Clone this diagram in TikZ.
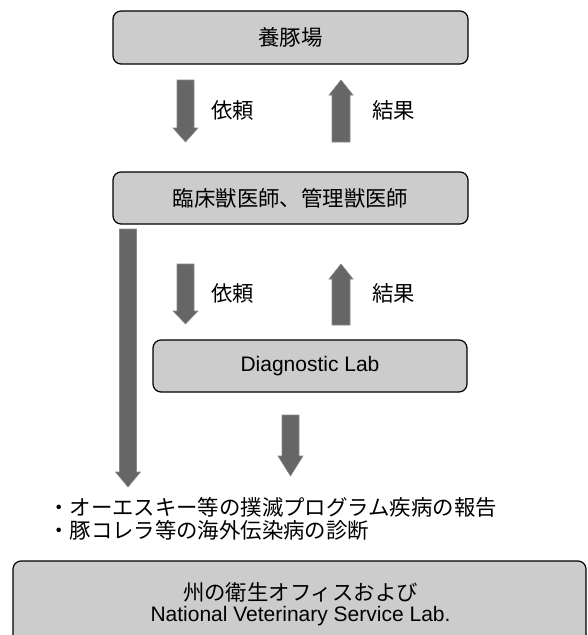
\documentclass[tikz,border=0pt]{standalone}
\usepackage{fontspec}
\setmainfont{Liberation Sans}
\newfontfamily\jp{Noto Sans CJK JP}
\usetikzlibrary{calc}
\definecolor{boxgray}{HTML}{CCCCCC}
\definecolor{arrgray}{HTML}{666666}
\definecolor{arredge}{HTML}{8A8A8A}
\tikzset{
  box/.style={draw=black, line width=1.2pt, fill=boxgray, rounded corners=8pt, inner sep=0pt, font=\fontsize{21}{25}\selectfont},
  lbl/.style={inner sep=0pt, font=\jp\fontsize{21.4}{25}\selectfont},
  blockarrow/.style={fill=arrgray, draw=arredge, line width=0.6pt},
}
% down block arrow from #1 (top) to #2 (tip), head length #3
\newcommand\darr[3]{\filldraw[blockarrow] let \p1=(#1),\p2=(#2) in
  (\x1-8.5pt,\y1) -- (\x1+8.5pt,\y1) -- (\x1+8.5pt,\y2+#3) -- (\x1+12.5pt,\y2+#3)
  -- (\x1,\y2) -- (\x1-12.5pt,\y2+#3) -- (\x1-8.5pt,\y2+#3) -- cycle;}
% up block arrow from #1 (base) to #2 (tip), head length #3
\newcommand\uarr[3]{\filldraw[blockarrow] let \p1=(#1),\p2=(#2) in
  (\x1-9pt,\y1) -- (\x1+9pt,\y1) -- (\x1+9pt,\y2-#3) -- (\x1+12pt,\y2-#3)
  -- (\x1,\y2) -- (\x1-12pt,\y2-#3) -- (\x1-9pt,\y2-#3) -- cycle;}
\begin{document}
\begin{tikzpicture}[x=1pt,y=-1pt]
\useasboundingbox (0,0) rectangle (587,635);
\clip (0,0) rectangle (587,635);
\fill[white] (0,0) rectangle (587,635);

% boxes
\node[box, minimum width=355pt, minimum height=53pt] (farm) at (290.5,37.5) {\jp\fontsize{21.4}{25}\selectfont 養豚場};
\node[box, minimum width=355pt, minimum height=52pt] (vet) at (290.5,198) {\jp\fontsize{21.4}{25}\selectfont 臨床獣医師、管理獣医師};
\node[box, minimum width=314pt, minimum height=52pt] (lab) at (310,366) {Diagnostic Lab};
\draw[box] (13,561) rectangle (586,660);
\node[inner sep=0pt, align=center, font=\fontsize{21}{20.5}\selectfont] (state) at (300.5,604)
  {{\jp\fontsize{21.4}{20.5}\selectfont 州の衛生オフィスおよび}\\National Veterinary Service Lab.};

% arrow end points
\coordinate (a1s) at (185.5,80);  \coordinate (a1e) at (185.5,142);
\coordinate (a2s) at (341,142);   \coordinate (a2e) at (341,80);
\coordinate (a3s) at (185.5,264); \coordinate (a3e) at (185.5,324);
\coordinate (a4s) at (341,325);   \coordinate (a4e) at (341,264);
\coordinate (a5s) at (128,229);   \coordinate (a5e) at (128,487);
\coordinate (a6s) at (290.5,415); \coordinate (a6e) at (290.5,476);

\darr{a1s}{a1e}{14pt}
\uarr{a2s}{a2e}{15pt}
\darr{a3s}{a3e}{13pt}
\uarr{a4s}{a4e}{15pt}
\darr{a5s}{a5e}{15pt}
\darr{a6s}{a6e}{20pt}

% labels
\node[lbl, anchor=west] (req1) at (211,110) {依頼};
\node[lbl, anchor=west] (res1) at (372,110) {結果};
\node[lbl, anchor=west] (req2) at (211,293) {依頼};
\node[lbl, anchor=west] (res2) at (372,293) {結果};

\node[lbl, anchor=west] (item1) at (48,507) {・オーエスキー等の撲滅プログラム疾病の報告};
\node[lbl, anchor=west] (item2) at (48,530) {・豚コレラ等の海外伝染病の診断};
\end{tikzpicture}
\end{document}
